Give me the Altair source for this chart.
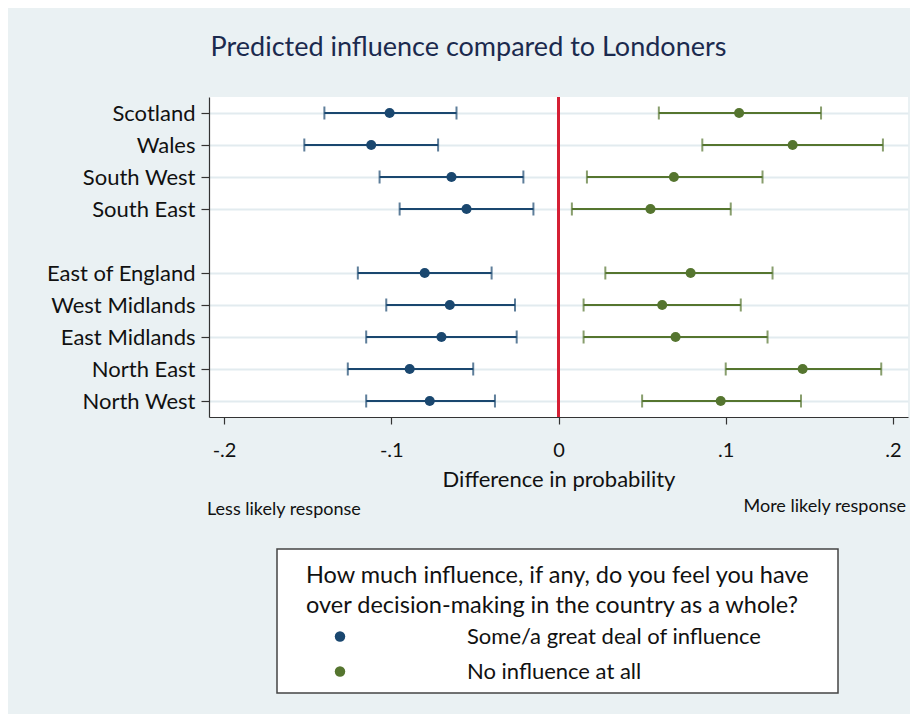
import altair as alt
import pandas as pd

# ---- data ----
regions = ["Scotland", "Wales", "South West", "South East",
           "East of England", "West Midlands", "East Midlands",
           "North East", "North West"]
gap_after = 4  # blank row between South East and East of England

groups = ["Some/a great deal of influence", "No influence at all"]

blue_est = [-0.101, -0.112, -0.064, -0.055, -0.080, -0.065, -0.070, -0.089, -0.077]
blue_lo = [-0.140, -0.152, -0.107, -0.095, -0.120, -0.103, -0.115, -0.126, -0.115]
blue_hi = [-0.061, -0.072, -0.021, -0.015, -0.040, -0.026, -0.025, -0.051, -0.038]

green_est = [0.108, 0.140, 0.069, 0.055, 0.079, 0.062, 0.070, 0.146, 0.097]
green_lo = [0.060, 0.086, 0.017, 0.008, 0.028, 0.015, 0.015, 0.100, 0.050]
green_hi = [0.157, 0.194, 0.122, 0.103, 0.128, 0.109, 0.125, 0.193, 0.145]

x_ticks = [-0.2, -0.1, 0, 0.1, 0.2]

title_text = "Predicted influence compared to Londoners"
x_title = "Difference in probability"
legend_title = ["How much influence, if any, do you feel you have",
                "over decision-making in the country as a whole?"]
left_note = "Less likely response"
right_note = "More likely response"

# ---- tidy table ----
rows = []
for g, est, lo, hi in [(groups[0], blue_est, blue_lo, blue_hi),
                       (groups[1], green_est, green_lo, green_hi)]:
    for r, e, l, h in zip(regions, est, lo, hi):
        rows.append({"region": r, "group": g, "est": e, "lo": l, "hi": h})
df = pd.DataFrame(rows)

y_domain = regions[:gap_after] + [" "] + regions[gap_after:]

FONT = "Lato"
BLUE = "#1a476f"
GREEN = "#55752f"
color_scale = alt.Scale(domain=groups, range=[BLUE, GREEN])

y_enc = alt.Y("region:N",
              scale=alt.Scale(type="point", domain=y_domain, padding=0.5),
              axis=alt.Axis(title=None, values=regions, grid=True,
                            gridColor="#e2ebef", gridWidth=2,
                            domainColor="#333333", domainWidth=1.2,
                            tickColor="#333333", tickSize=8, tickWidth=1.2,
                            labelFont=FONT, labelFontSize=22, labelColor="#111111",
                            labelPadding=6, labelLimit=300))

x_scale = alt.Scale(domain=[-0.209, 0.209], nice=False, zero=False)
x_axis = alt.Axis(values=x_ticks, grid=False,
                  labelExpr="datum.value == 0 ? '0' : (datum.value < 0 ? '-' : '') + replace(format(abs(datum.value), '.1f'), '0.', '.')",
                  domainColor="#333333", domainWidth=1.2,
                  tickColor="#333333", tickSize=7, tickWidth=1.2,
                  labelFont=FONT, labelFontSize=20, labelColor="#111111",
                  labelPadding=16,
                  title=x_title, titleFont=FONT, titleFontSize=22,
                  titleFontWeight="normal", titleColor="#111111", titlePadding=9)

base = alt.Chart(df)

# frame of the legend box (drawn beneath the legend)
legend_frame = alt.Chart(pd.DataFrame({"frame": [0]})).mark_rect(
    fill="white", stroke="#444444", strokeWidth=1.5).encode(
    x=alt.value(68), x2=alt.value(629), y=alt.value(452), y2=alt.value(596))

zero_line = base.mark_rule(color="#d42035", strokeWidth=1.8).encode(
    x=alt.datum(0, scale=x_scale, axis=x_axis, type="quantitative"))

bars = base.mark_rule(strokeWidth=2).encode(
    x=alt.X("lo:Q", scale=x_scale, axis=x_axis),
    x2="hi:Q",
    y=y_enc,
    color=alt.Color("group:N", scale=color_scale, legend=None))

cap_lo = base.mark_tick(thickness=2, size=13).encode(
    x=alt.X("lo:Q", scale=x_scale, axis=x_axis),
    y=y_enc,
    color=alt.Color("group:N", scale=color_scale, legend=None))

cap_hi = base.mark_tick(thickness=2, size=13).encode(
    x=alt.X("hi:Q", scale=x_scale, axis=x_axis),
    y=y_enc,
    color=alt.Color("group:N", scale=color_scale, legend=None))

points = base.mark_point(filled=True, size=100, opacity=1).encode(
    x=alt.X("est:Q", scale=x_scale, axis=x_axis),
    y=y_enc,
    color=alt.Color("group:N",
                    scale=color_scale,
                    sort=groups,
                    legend=alt.Legend(
                        orient="none", legendX=97, legendY=467,
                        title=legend_title, titleFont=FONT, titleFontSize=23.5,
                        titleFontWeight="normal", titleColor="#111111",
                        titleAnchor="start", titleAlign="left",
                        titleLineHeight=30, titlePadding=8, titleLimit=800,
                        labelFont=FONT, labelFontSize=22, labelColor="#111111",
                        labelLimit=500, labelOffset=116,
                        symbolType="circle", symbolSize=110, symbolStrokeWidth=0,
                        symbolOffset=23, rowPadding=13,
                        padding=0)),
    tooltip=["region", "group", "est", "lo", "hi"])

notes_left = alt.Chart(pd.DataFrame({"t": [left_note]})).mark_text(
    font=FONT, fontSize=18, color="#111111", align="left", baseline="middle").encode(
    text="t:N", x=alt.value(-2), y=alt.value(413))

notes_right = alt.Chart(pd.DataFrame({"t": [right_note]})).mark_text(
    font=FONT, fontSize=18, color="#111111", align="right", baseline="middle").encode(
    text="t:N", x=alt.value(697), y=alt.value(410))

chart = alt.layer(legend_frame, zero_line, bars, cap_lo, cap_hi, points,
                  notes_left, notes_right).resolve_legend(
    color="independent"
).properties(
    width=699, height=320,
    title=alt.TitleParams(title_text, font=FONT, fontSize=27, fontWeight="normal",
                          color="#1b2a4e", anchor="middle", frame="group",
                          dx=-90, offset=34),
    autosize=alt.AutoSizeParams(type="none"),
    padding={"left": 201, "top": 89, "right": 2, "bottom": 297},
    background="#eaf1f3",
).configure_view(
    stroke=None, fill="white"
)

chart.save("out.html", embed_options={"renderer": "svg", "actions": False})
